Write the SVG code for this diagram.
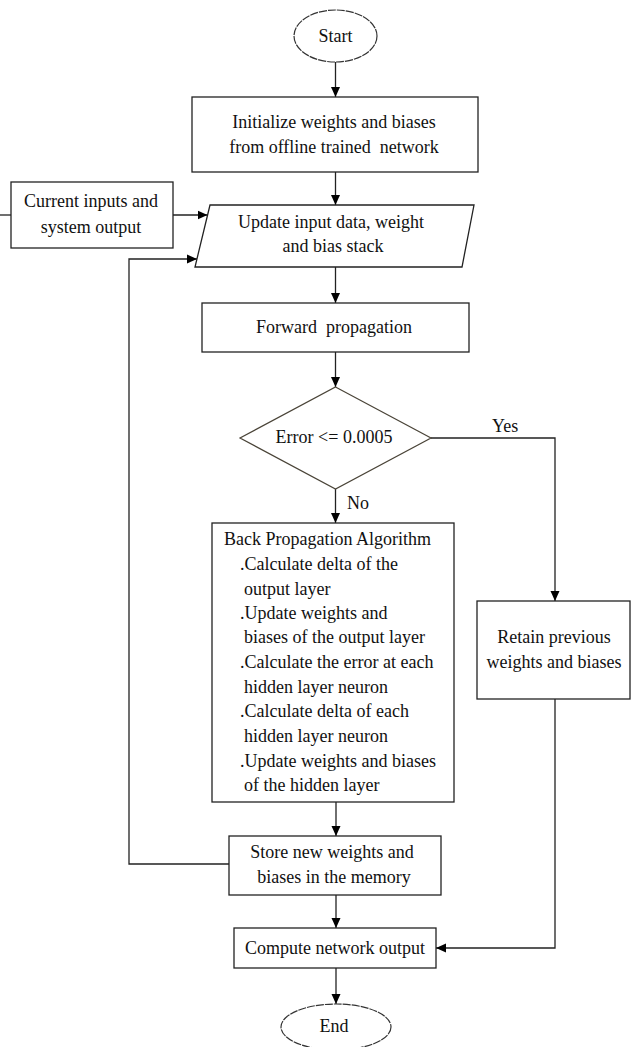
<svg xmlns="http://www.w3.org/2000/svg" width="631" height="1047" viewBox="0 0 631 1047">
<style>
.box{fill:#fff;stroke:#222;stroke-width:1.3}
.term{fill:#fff;stroke:#333;stroke-width:1.2;stroke-dasharray:8 1}
.dia{fill:#fff;stroke:#4a4438;stroke-width:1.2}
.ln{fill:none;stroke:#222;stroke-width:1.3}
.arr{marker-end:url(#ah)}
text{font-family:"Liberation Serif","Times New Roman",serif;font-size:18px;fill:#111}
.c{text-anchor:middle}
</style>
<defs>
<marker id="ah" markerUnits="userSpaceOnUse" markerWidth="10" markerHeight="10" refX="10" refY="5" orient="auto">
<path d="M0,0.5 L10,5 L0,9.5 z" fill="#000"/>
</marker>
</defs>
<g id="connectors">
<line class="ln arr" x1="335.5" y1="62" x2="335.5" y2="97"/>
<line class="ln arr" x1="335.5" y1="172" x2="335.5" y2="205"/>
<line class="ln" x1="0" y1="215" x2="11" y2="215"/>
<line class="ln arr" x1="173" y1="215" x2="207.5" y2="215"/>
<polyline class="ln arr" points="229,864 129,864 129,259 197,259"/>
<line class="ln arr" x1="335.5" y1="267" x2="335.5" y2="303"/>
<line class="ln arr" x1="335.5" y1="352" x2="335.5" y2="387"/>
<line class="ln arr" x1="335.5" y1="489" x2="335.5" y2="523"/>
<polyline class="ln arr" points="431,438 555,438 555,601"/>
<line class="ln arr" x1="336" y1="802" x2="336" y2="836"/>
<line class="ln arr" x1="336" y1="895" x2="336" y2="928"/>
<polyline class="ln arr" points="555,699 555,948 436,948"/>
<line class="ln arr" x1="336" y1="968" x2="336" y2="1004"/>
<text x="492" y="432">Yes</text>
<text x="347" y="509">No</text>
</g>
<g id="start">
<ellipse class="term" cx="335.5" cy="36" rx="41.5" ry="26"/>
<text class="c" x="335.5" y="42">Start</text>
</g>
<g id="init">
<rect class="box" x="192" y="97" width="286" height="75"/>
<text class="c" x="334" y="128">Initialize weights and biases</text>
<text class="c" x="334" y="153" xml:space="preserve">from offline trained  network</text>
</g>
<g id="inputs">
<rect class="box" x="11" y="182" width="162" height="66"/>
<text class="c" x="91" y="207">Current inputs and</text>
<text class="c" x="91" y="233">system output</text>
</g>
<g id="update">
<polygon class="box" points="210,205 474,205 462,267 195,267"/>
<text class="c" x="331" y="228">Update input data, weight</text>
<text class="c" x="333" y="252">and bias stack</text>
</g>
<g id="forward">
<rect class="box" x="202" y="303" width="267" height="49"/>
<text class="c" x="334" y="333" xml:space="preserve">Forward  propagation</text>
</g>
<g id="decision">
<polygon class="dia" points="335.5,387 431,438 335.5,489 240,438"/>
<text class="c" x="334" y="443">Error &lt;= 0.0005</text>
</g>
<g id="backprop">
<rect class="box" x="212" y="523" width="242" height="279"/>
<text x="224" y="545">Back Propagation Algorithm</text>
<text x="240" y="570">.Calculate delta of the</text>
<text x="244" y="595">output layer</text>
<text x="240" y="619">.Update weights and</text>
<text x="244" y="643">biases of the output layer</text>
<text x="240" y="668">.Calculate the error at each</text>
<text x="244" y="693">hidden layer neuron</text>
<text x="240" y="717">.Calculate delta of each</text>
<text x="244" y="742">hidden layer neuron</text>
<text x="240" y="767">.Update weights and biases</text>
<text x="244" y="791">of the hidden layer</text>
</g>
<g id="retain">
<rect class="box" x="477" y="601" width="153" height="98"/>
<text class="c" x="554" y="643">Retain previous</text>
<text class="c" x="554" y="668">weights and biases</text>
</g>
<g id="store">
<rect class="box" x="229" y="836" width="212" height="59"/>
<text class="c" x="332" y="858">Store new weights and</text>
<text class="c" x="334" y="883">biases in the memory</text>
</g>
<g id="compute">
<rect class="box" x="234" y="928" width="202" height="40"/>
<text class="c" x="335" y="954">Compute network output</text>
</g>
<g id="end">
<ellipse class="term" cx="336" cy="1027" rx="55" ry="23"/>
<text class="c" x="334" y="1032">End</text>
</g>
</svg>
